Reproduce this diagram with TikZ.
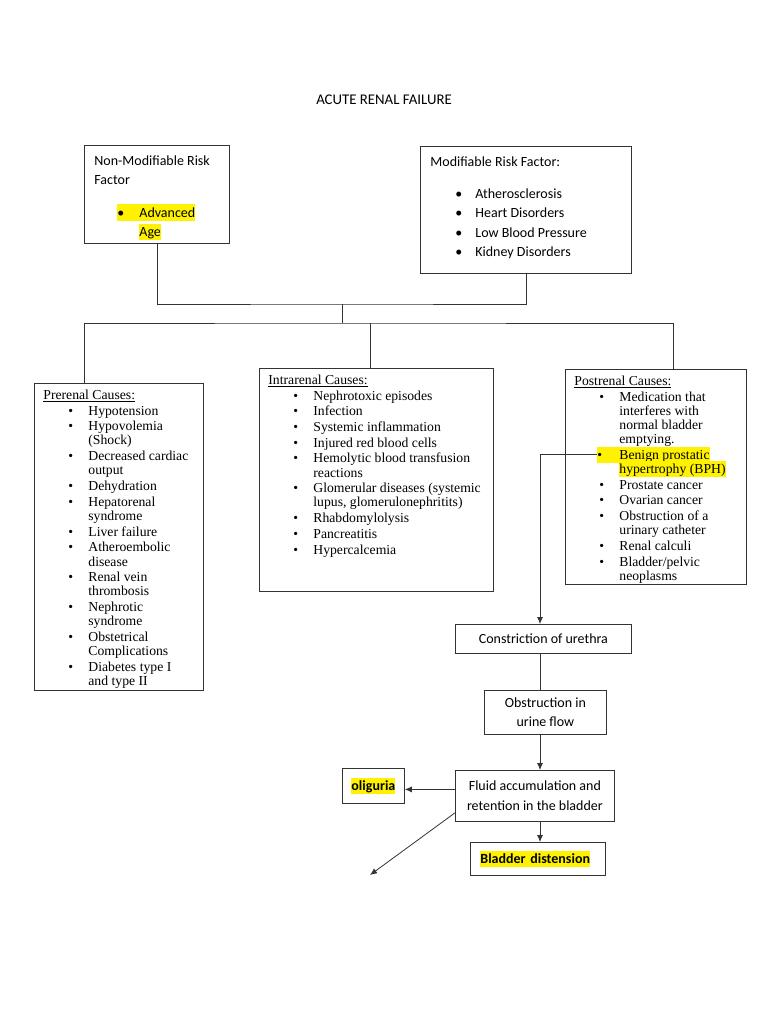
\documentclass[tikz,border=0pt]{standalone}
\usepackage{fontspec}
\setmainfont{Liberation Serif}
\newfontfamily\calibri{Carlito}
\usetikzlibrary{arrows.meta}
\usetikzlibrary{positioning}

\newcommand\hlbox[1]{{\setlength{\fboxsep}{0pt}\colorbox{yellow}{\rule[-.28em]{0pt}{1.18em}#1}}}
\newcommand\hl[1]{\smash{\hlbox{#1}}}
\newcommand\itm[1]{\par\hangindent=45pt\hangafter=1\noindent\hbox to 45pt{\hskip25pt\textbullet\hfil}#1}
\newcommand\hlitm[2]{\par\hangindent=45pt\hangafter=1\noindent\hskip23pt\strut\hl{\hbox to 22pt{\textbullet\hfil}#1}\newline\strut\hl{#2}}
\newcommand\boxbody[3]{\vbox to #2{\hsize=#1\leftskip=9pt\rightskip=2pt plus 1fil\parindent=0pt\parskip=1.5pt\vskip4.5pt\leavevmode\strut#3\par\vfil}}

\begin{document}
\begin{tikzpicture}[x=1pt,y=-1pt,>={Latex[length=7pt,width=6pt]},line width=0.8pt]

  \tikzstyle{risk}=[rectangle,draw=black!80,inner sep=0pt,anchor=north west,
    font=\calibri\fontsize{14}{19.5}\selectfont];
  \tikzstyle{cause}=[rectangle,draw=black!80,inner sep=0pt,anchor=north west,
    font=\fontsize{13.7}{14.2}\selectfont];
  \tikzstyle{flow}=[rectangle,draw=black!80,inner sep=0pt,anchor=north west,
    align=center,font=\calibri\fontsize{14}{19.5}\selectfont];
  \tikzstyle{alert}=[flow,font=\calibri\fontsize{14}{19.5}\selectfont\bfseries];
  \tikzstyle{every path}=[draw=black!80]

  \useasboundingbox[draw=none] (0,0) rectangle (768,1024);

  \node[font=\calibri\fontsize{14.8}{17}\selectfont] (title) at (384,100) {ACUTE RENAL FAILURE};

  \node[risk] (nonmod) at (84,145) {\boxbody{145pt}{98pt}{\leftskip=10pt\parskip=0pt
    Non-Modifiable Risk\newline Factor\par\vskip13pt
    \hlitm{Advanced}{Age}}};
  \node[risk] (modif) at (420,146) {\boxbody{211pt}{127pt}{\leftskip=10pt\parskip=0pt
    Modifiable Risk Factor:\par\vskip12.5pt
    \itm{Atherosclerosis}
    \itm{Heart Disorders}
    \itm{Low Blood Pressure}
    \itm{Kidney Disorders}}};

  \node[cause] (prerenal) at (34,383) {\boxbody{169pt}{307pt}{\underline{Prerenal Causes:}
    \itm{Hypotension}
    \itm{Hypovolemia\newline (Shock)}
    \itm{Decreased cardiac\newline output}
    \itm{Dehydration}
    \itm{Hepatorenal\newline syndrome}
    \itm{Liver failure}
    \itm{Atheroembolic\newline disease}
    \itm{Renal vein\newline thrombosis}
    \itm{Nephrotic\newline syndrome}
    \itm{Obstetrical\newline Complications}
    \itm{Diabetes type I\newline and type II}}};
  \node[cause] (intrarenal) at (259,368) {\boxbody{234pt}{223pt}{\underline{Intrarenal Causes:}
    \itm{Nephrotoxic episodes}
    \itm{Infection}
    \itm{Systemic inflammation}
    \itm{Injured red blood cells}
    \itm{Hemolytic blood transfusion\newline reactions}
    \itm{Glomerular diseases (systemic\newline lupus, glomerulonephritits)}
    \itm{Rhabdomylolysis}
    \itm{Pancreatitis}
    \itm{Hypercalcemia}}};
  \node[cause] (postrenal) at (565,369) {\boxbody{181pt}{215pt}{\underline{Postrenal Causes:}
    \itm{Medication that\newline interferes with\newline normal bladder\newline emptying.}
    \hlitm{Benign prostatic}{hypertrophy (BPH)}
    \itm{Prostate cancer}
    \itm{Ovarian cancer}
    \itm{Obstruction of a\newline urinary catheter}
    \itm{Renal calculi}
    \itm{Bladder/pelvic\newline neoplasms}}};

  \node[flow,minimum width=176pt,minimum height=29pt] (constrict) at (455,624) {Constriction of urethra};
  \node[flow,minimum width=122pt,minimum height=44pt] (obstruct) at (484,690) {Obstruction in\\urine flow};
  \node[flow,minimum width=159pt,minimum height=51pt] (fluid) at (455,770) {Fluid accumulation and\\retention in the bladder};
  \node[alert,minimum width=62pt,minimum height=35pt] (oliguria) at (342,768) {\hlbox{oliguria}};
  \node[alert,inner xsep=10pt,text width=115pt,align=left,minimum height=33pt] (bladder) at (470,842) {\hlbox{Bladder distension}};

  \coordinate (hub) at (342,304);
  \coordinate (split) at (342,323);
  \coordinate (preIn) at (84,383);
  \coordinate (intraIn) at (370,368);
  \coordinate (postIn) at (673,369);
  \coordinate (spine) at (540,0);
  \coordinate (bph) at (597,454);
  \coordinate (oliIn) at ([yshift=6.5pt]fluid.west);
  \coordinate (sink) at (370,875);

  % risk factors join, then split into the three causes
  \draw (nonmod.south) |- (hub) -| (modif.south);
  \draw (hub) -- (split);
  \draw (preIn) |- (split) -| (postIn);
  \draw (intraIn) -- (intraIn |- split);

  % postrenal chain
  \draw[->] (bph) -| (spine |- constrict.north);
  \draw (spine |- constrict.south) -- (spine |- obstruct.north);
  \draw[->] (spine |- obstruct.south) -- (spine |- fluid.north);
  \draw[->] (spine |- fluid.south) -- (spine |- bladder.north);
  \draw[->] (oliIn) -- (oliIn -| oliguria.east);
  \draw[->] ([yshift=9pt]fluid.south west) -- (sink);

\end{tikzpicture}
\end{document}
